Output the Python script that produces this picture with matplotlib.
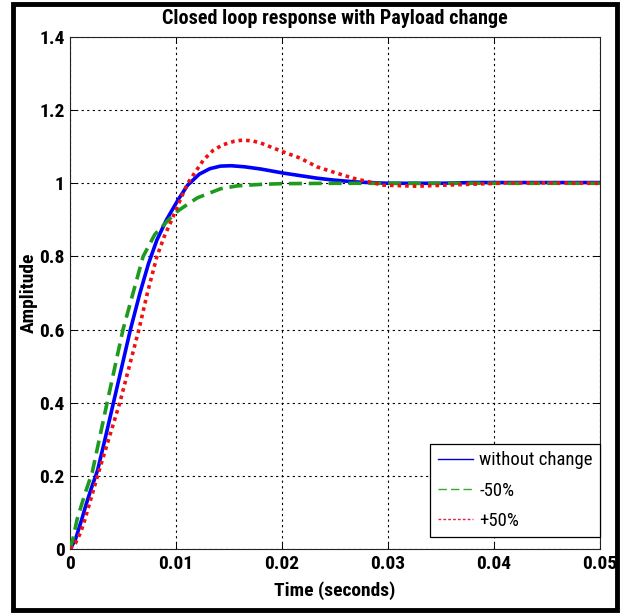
import matplotlib
matplotlib.use("Agg")
import matplotlib.pyplot as plt
from matplotlib import font_manager as fm
from matplotlib.lines import Line2D
from matplotlib.patches import Rectangle

# --- data ---
t_nominal = [0, 0.0005, 0.0011, 0.0015, 0.002, 0.0026, 0.0033, 0.0041, 0.0049, 0.0057,
             0.0066, 0.0074, 0.0082, 0.0091, 0.0102, 0.0111, 0.0122, 0.0132, 0.0142,
             0.0152, 0.0165, 0.018, 0.0201, 0.0217, 0.0233, 0.0248, 0.0264, 0.0274,
             0.03, 0.035, 0.038, 0.045, 0.05]
y_nominal = [0, 0.025, 0.08, 0.12, 0.165, 0.215, 0.3, 0.4, 0.5, 0.6,
             0.7, 0.78, 0.845, 0.9, 0.955, 0.995, 1.025, 1.04, 1.047,
             1.048, 1.045, 1.039, 1.028, 1.021, 1.014, 1.009, 1.005, 1.003,
             1.0, 1.0, 1.002, 1.002, 1.002]

t_minus = [0, 0.0003, 0.00066, 0.0014, 0.0021, 0.0035, 0.005, 0.0069, 0.008, 0.0093,
           0.0102, 0.012, 0.0142, 0.0158, 0.018, 0.02, 0.025, 0.05]
y_minus = [0, 0.03, 0.08, 0.15, 0.21, 0.4, 0.6, 0.8, 0.86, 0.9,
           0.925, 0.96, 0.985, 0.993, 0.997, 0.999, 1.0, 1.0]

t_plus = [0, 0.0005, 0.001, 0.0014, 0.002, 0.0027, 0.0037, 0.0047, 0.0056, 0.0065,
          0.0073, 0.0082, 0.0089, 0.0096, 0.0103, 0.0111, 0.0126, 0.0135, 0.0144,
          0.0155, 0.0163, 0.0172, 0.018, 0.0201, 0.0217, 0.0233, 0.0248, 0.0267,
          0.0295, 0.0327, 0.0374, 0.0412, 0.045, 0.05]
y_plus = [0, 0.015, 0.045, 0.08, 0.14, 0.21, 0.305, 0.4, 0.5, 0.6,
          0.7, 0.8, 0.855, 0.9, 0.948, 1.0, 1.064, 1.09, 1.105,
          1.115, 1.118, 1.116, 1.11, 1.086, 1.069, 1.045, 1.031, 1.014,
          0.995, 0.992, 0.997, 1.001, 1.001, 1.0]

labels = ['without change', '-50%', '+50%']
x_ticks = [0, 0.01, 0.02, 0.03, 0.04, 0.05]
x_ticklabels = ['0', '0.01', '0.02', '0.03', '0.04', '0.05']
y_ticks = [0, 0.2, 0.4, 0.6, 0.8, 1.0, 1.2, 1.4]
y_ticklabels = ['0', '0.2', '0.4', '0.6', '0.8', '1', '1.2', '1.4']

# pick a narrow sans font if one is installed, else Liberation Sans at a smaller size
names = {f.name for f in fm.fontManager.ttflist}
fs = 12.3
family = ['Liberation Sans', 'DejaVu Sans']
for cand in ['Liberation Sans Narrow', 'Arial Narrow', 'Roboto Condensed',
             'Open Sans Condensed', 'Nimbus Sans Narrow']:
    if cand in names:
        family = [cand, 'Liberation Sans', 'DejaVu Sans']
        fs = 14
        break
plt.rcParams['font.family'] = family

W, H = 625, 613
fig = plt.figure(figsize=(W / 100, H / 100), dpi=100)
ax = fig.add_axes([70 / W, 1 - 549 / H, 530 / W, 512 / H])

ax.plot(t_nominal, y_nominal, color='#0000ff', lw=2.6, solid_capstyle='butt', zorder=3)
ax.plot(t_minus, y_minus, color='#1e9a1e', lw=2.6, linestyle=(0, (3.6, 1.9)),
        dash_capstyle='butt', zorder=3)
ax.plot(t_plus, y_plus, color='#ee1111', lw=2.6, linestyle=(0, (1.0, 1.1)),
        dash_capstyle='butt', zorder=3)

ax.set_xlim(0, 0.05)
ax.set_ylim(0, 1.4)
ax.set_xticks(x_ticks)
ax.set_xticklabels(x_ticklabels)
ax.set_yticks(y_ticks)
ax.set_yticklabels(y_ticklabels)
ax.tick_params(direction='in', length=4, width=0.7, top=True, right=True,
               labelsize=fs, pad=4)
for lab in ax.get_xticklabels() + ax.get_yticklabels():
    lab.set_fontweight('bold')

ax.grid(True, color='black', linestyle=(0, (2, 3)), linewidth=0.8)
for s in ax.spines.values():
    s.set_linewidth(0.8)
    s.set_color('#222222')

ax.set_title('Closed loop response with Payload change', fontsize=fs + 0.5,
             fontweight='bold', pad=9)
ax.set_xlabel('Time (seconds)', fontsize=fs, fontweight='bold', labelpad=6)
ax.set_ylabel('Amplitude', fontsize=fs, fontweight='bold')
ax.yaxis.set_label_coords(-0.061, 0.5)

handles = [Line2D([], [], color='#0000cc', lw=1.0),
           Line2D([], [], color='#33aa33', lw=1.0, linestyle=(0, (6, 3))),
           Line2D([], [], color='#dd2244', lw=1.0, linestyle=(0, (2, 1.5)))]
leg = ax.legend(handles, labels, loc='lower right', bbox_to_anchor=(1.0, 0.023),
                borderaxespad=0, fontsize=fs - 0.5, handlelength=1.9, handletextpad=0.3,
                labelspacing=0.65, borderpad=0.4, fancybox=False, framealpha=1,
                edgecolor='black')
leg.get_frame().set_linewidth(0.9)

fig.patches.append(Rectangle((12.5 / W, 1 - 610 / H), (617 - 12.5) / W, (610 - 4) / H,
                             transform=fig.transFigure, fill=False,
                             edgecolor='black', lw=3.5))

fig.savefig('out.png', dpi=100)
